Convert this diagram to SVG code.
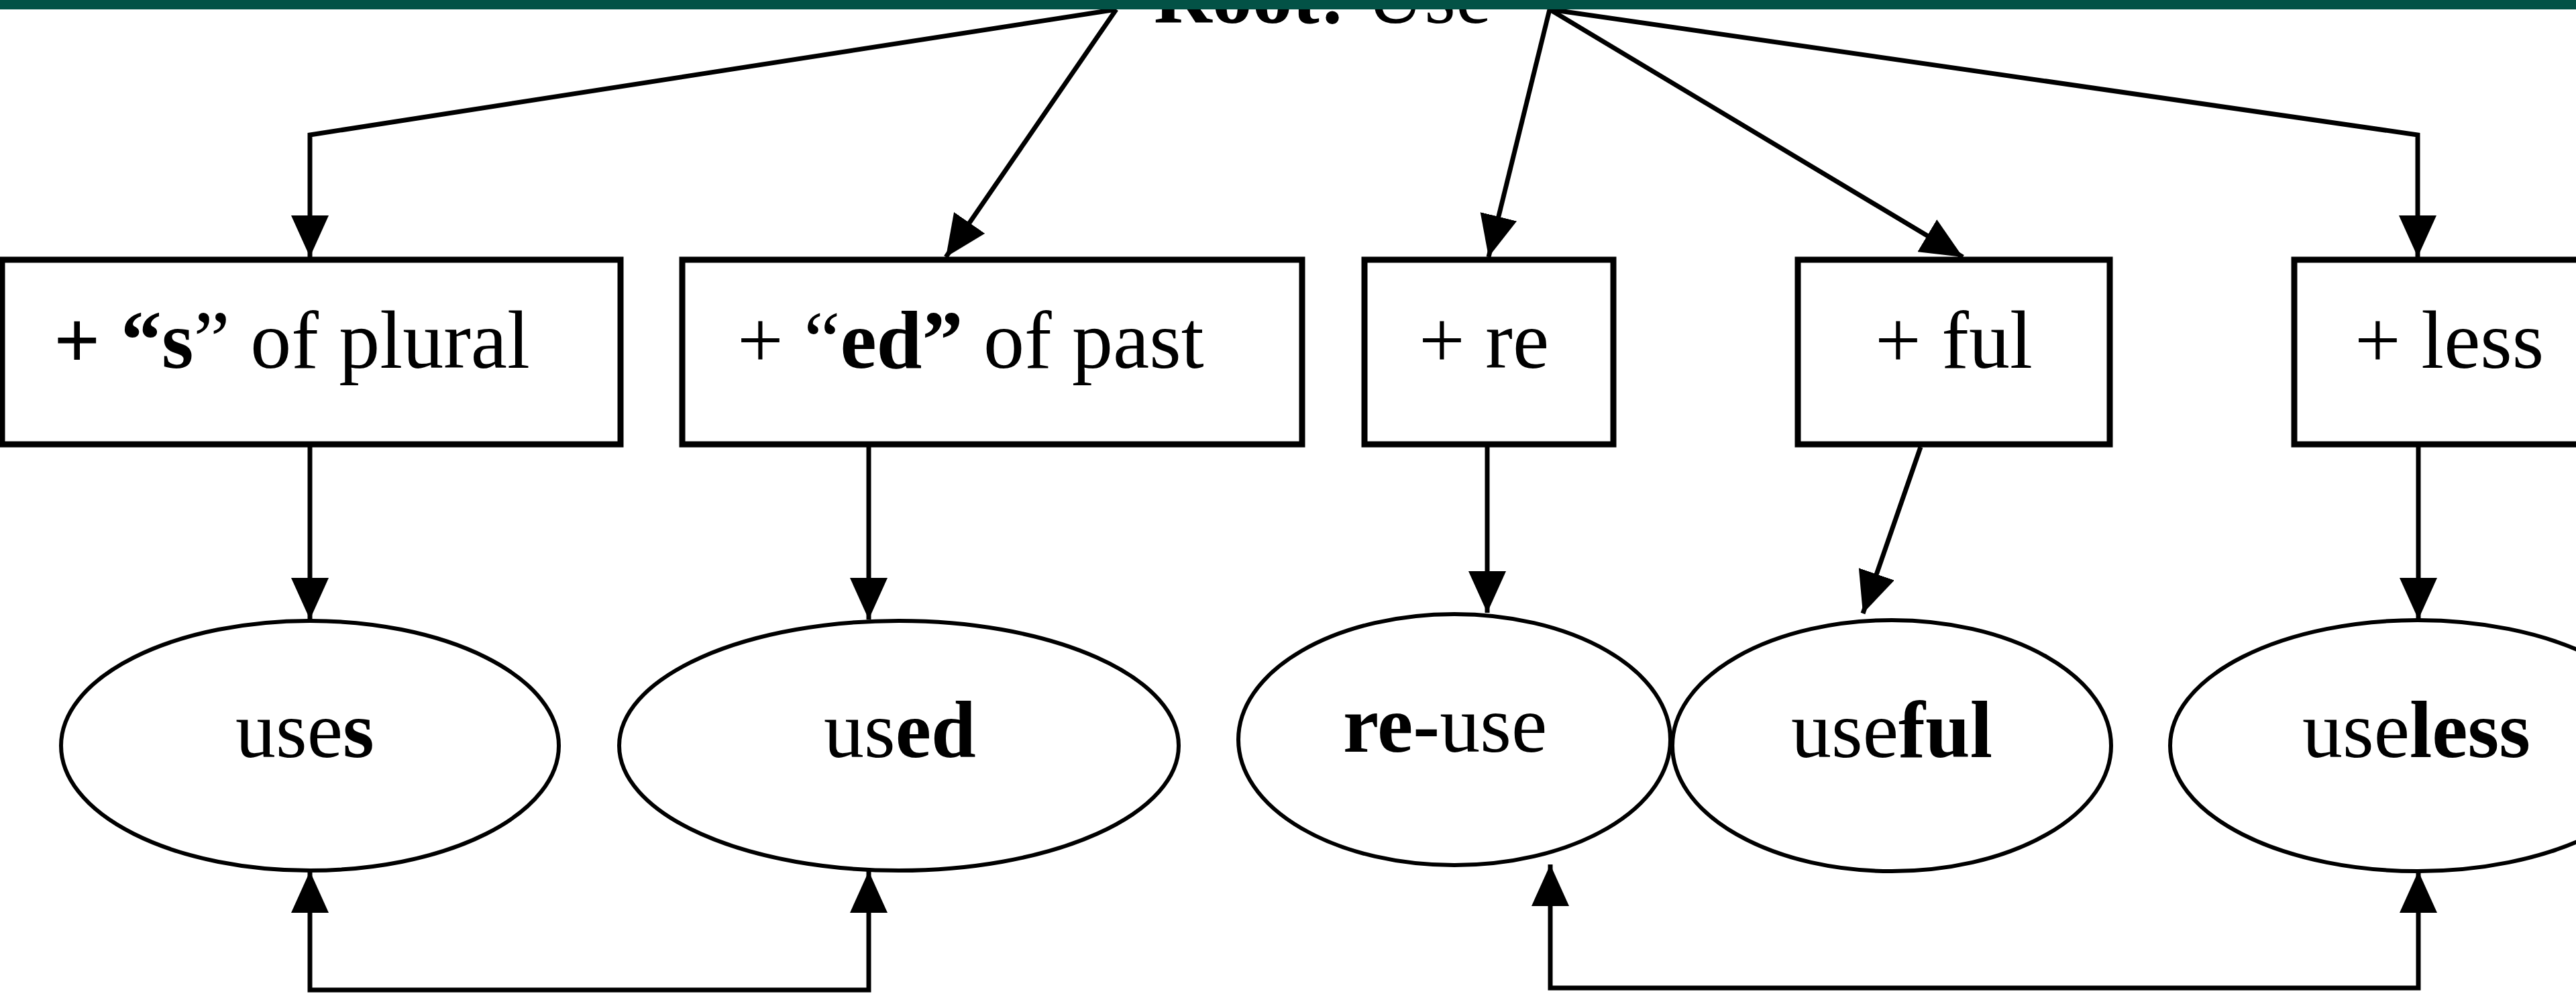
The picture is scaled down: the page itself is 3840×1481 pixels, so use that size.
<svg xmlns="http://www.w3.org/2000/svg" width="3840" height="1481" viewBox="0 0 3840 1481">
<style>
  .box { fill: #ffffff; stroke: #000000; stroke-width: 9; }
  .ell { fill: #ffffff; stroke: #000000; stroke-width: 6; }
  .con { fill: none; stroke: #000000; stroke-width: 7; stroke-linejoin: miter; }
  .arr { marker-end: url(#ah); }
  .both { marker-start: url(#ah); marker-end: url(#ah); }
  text { font-family: "Liberation Serif", "Times New Roman", serif; font-size: 120px; fill: #000000; }
  .bt { font-size: 122px; }
  .b { font-weight: bold; }
</style>
<defs>
  <marker id="ah" markerUnits="userSpaceOnUse" viewBox="0 0 62 56" markerWidth="62" markerHeight="56" refX="62" refY="28" orient="auto-start-reverse">
    <path d="M0,0 L62,28 L0,56 Z" fill="#000000"/>
  </marker>
</defs>
<rect x="0" y="0" width="3840" height="1481" fill="#ffffff"/>

<g id="connectors">
  <path class="con arr" d="M1664,14 L462,201 L462,383"/>
  <path class="con arr" d="M1664,14 L1410,383"/>
  <path class="con arr" d="M2310,14 L2219,383"/>
  <path class="con arr" d="M2310,14 L2926,383"/>
  <path class="con arr" d="M2310,14 L3604,201 L3604,383"/>
  <path class="con arr" d="M462,666 L462,923"/>
  <path class="con arr" d="M1295,666 L1295,923"/>
  <path class="con arr" d="M2217,666 L2217,913"/>
  <path class="con arr" d="M2863,666 L2777,914"/>
  <path class="con arr" d="M3605,666 L3605,923"/>
  <path class="con both" d="M462,1298 L462,1475 L1295,1475 L1295,1298"/>
  <path class="con both" d="M2311,1288 L2311,1472 L3605,1472 L3605,1298"/>
</g>

<g id="root">
  <text x="1720" y="34"><tspan class="b">Root:</tspan> Use</text>
</g>

<g id="box-plural">
  <rect class="box" x="3" y="387" width="922" height="275"/>
  <text class="bt" x="80" y="548"><tspan class="b">+ “s</tspan>” of plural</text>
</g>
<g id="box-past">
  <rect class="box" x="1017" y="387" width="924" height="275"/>
  <text class="bt" x="1099" y="548">+ “<tspan class="b">ed”</tspan> of past</text>
</g>
<g id="box-re">
  <rect class="box" x="2034" y="387" width="371" height="275"/>
  <text class="bt" x="2115" y="548">+ re</text>
</g>
<g id="box-ful">
  <rect class="box" x="2680" y="387" width="465" height="275"/>
  <text class="bt" x="2795" y="548">+ ful</text>
</g>
<g id="box-less">
  <rect class="box" x="3420" y="387" width="500" height="275"/>
  <text class="bt" x="3510" y="548">+ less</text>
</g>

<g id="ell-uses">
  <ellipse class="ell" cx="462" cy="1111" rx="371" ry="186"/>
  <text x="351" y="1128">use<tspan class="b">s</tspan></text>
</g>
<g id="ell-used">
  <ellipse class="ell" cx="1340" cy="1111" rx="417" ry="186"/>
  <text x="1228" y="1128">us<tspan class="b">ed</tspan></text>
</g>
<g id="ell-reuse">
  <ellipse class="ell" cx="2168" cy="1102" rx="322" ry="187"/>
  <text x="2002" y="1120"><tspan class="b">re-</tspan>use</text>
</g>
<g id="ell-useful">
  <ellipse class="ell" cx="2820" cy="1111" rx="327" ry="187"/>
  <text x="2670" y="1128">use<tspan class="b">ful</tspan></text>
</g>
<g id="ell-useless">
  <ellipse class="ell" cx="3604" cy="1111" rx="369" ry="187"/>
  <text x="3432" y="1128">use<tspan class="b">less</tspan></text>
</g>

<rect x="0" y="0" width="3840" height="14" fill="#035246"/>
</svg>
